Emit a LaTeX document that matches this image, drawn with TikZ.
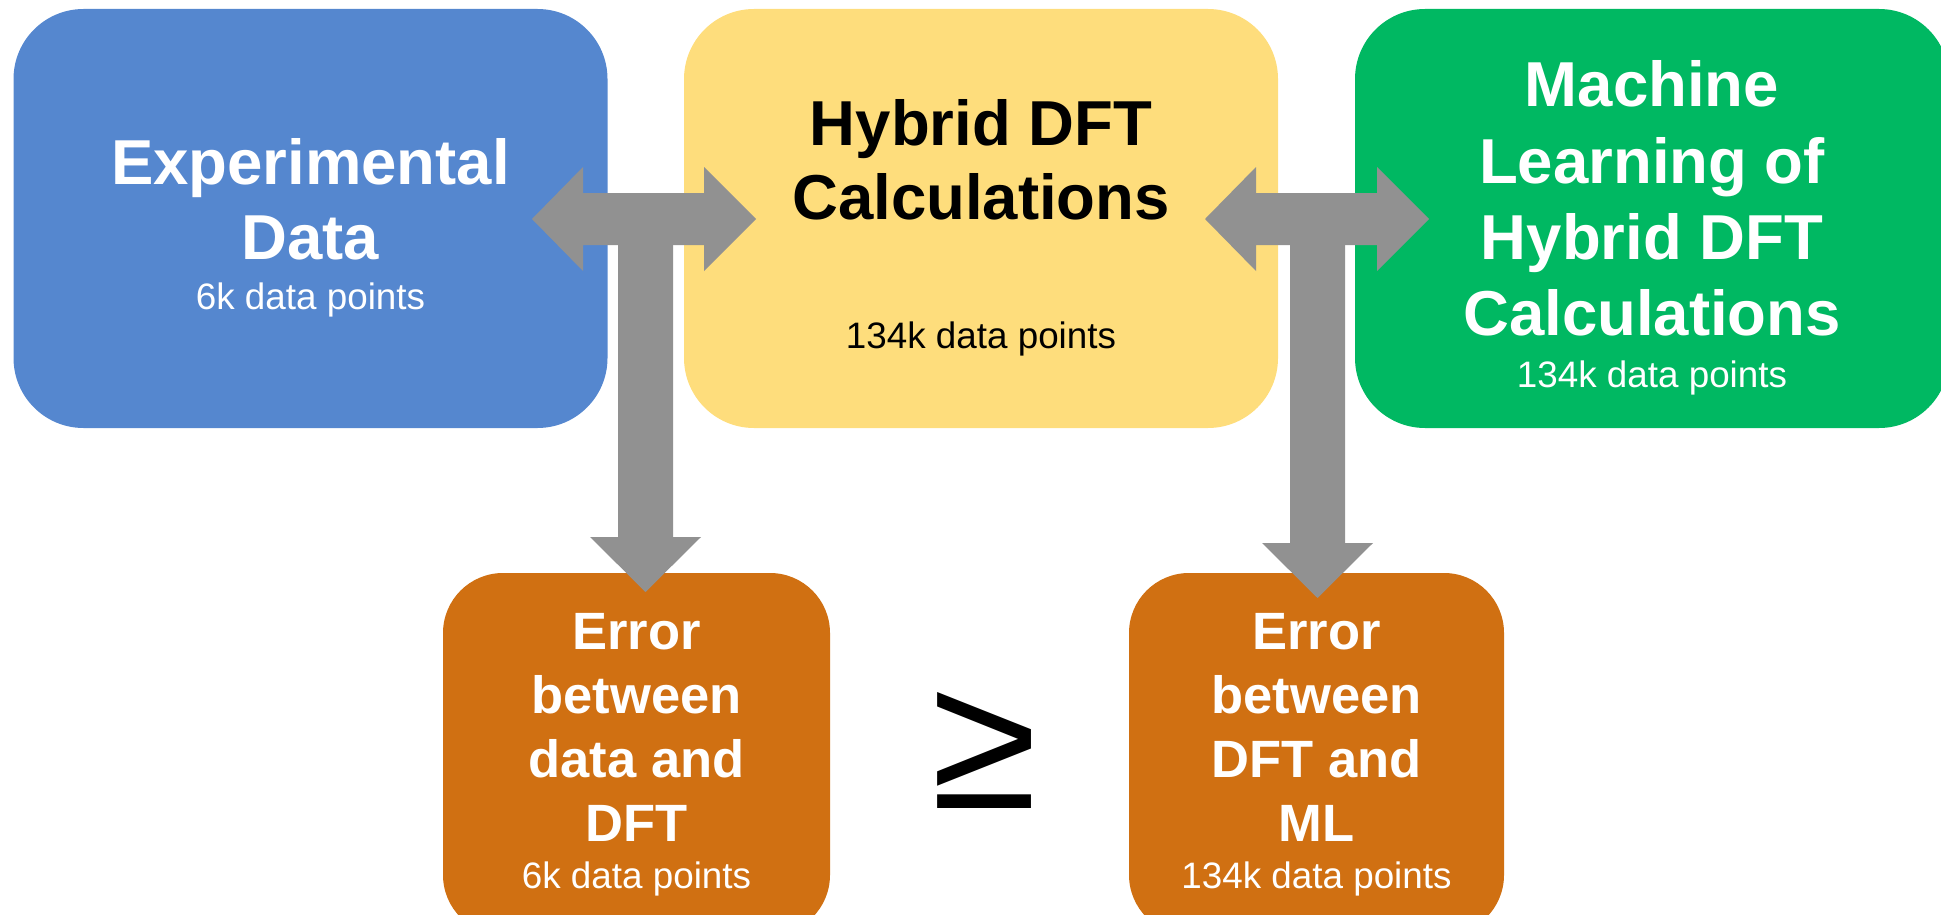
\documentclass[tikz,border=0pt]{standalone}
\usepackage{fontspec}
\setmainfont{Liberation Sans}
\definecolor{expC}{RGB}{85,135,207}
\definecolor{dftC}{RGB}{254,221,124}
\definecolor{mlC}{RGB}{0,184,98}
\definecolor{errC}{RGB}{208,112,18}
\definecolor{arrowC}{RGB}{145,145,145}
% centred block of lines whose baseline is that of the first line
\newcommand\stacklines[1]{\begin{tabular}[t]{@{}c@{}}#1\end{tabular}}
% T-shaped block arrow: left tip x, right tip x, stem centre x, stem tip y
\newcommand\teearrow[4]{%
  \fill[arrowC] (#1,219) -- ({#1+51},167) -- ({#1+51},193) -- ({#2-52},193)
    -- ({#2-52},167) -- (#2,219) -- ({#2-52},271) -- ({#2-52},245)
    -- ({#1+51},245) -- ({#1+51},271) -- cycle;
  \fill[arrowC] ({#3-27.5},230) -- ({#3+27.5},230) -- ({#3+27.5},{#4-55})
    -- ({#3+55.5},{#4-55}) -- (#3,#4) -- ({#3-55.5},{#4-55})
    -- ({#3-27.5},{#4-55}) -- cycle;}
\begin{document}
\begin{tikzpicture}[x=1pt,y=-1pt,
  card/.style={rectangle, inner sep=0pt, rounded corners=70pt,
    minimum width=594pt, minimum height=419pt},
  tile/.style={rectangle, inner sep=0pt, rounded corners=60pt, fill=errC,
    minimum height=362pt},
  head/.style={anchor=base, inner sep=0pt, align=center,
    font=\bfseries\fontsize{63.5}{#1}\selectfont},
  minor/.style={anchor=base, inner sep=0pt,
    font=\fontsize{36.8}{44}\selectfont},
]
\useasboundingbox (0,0) rectangle (1941,915);
\clip (0,0) rectangle (1941,915);

% main boxes
\node[card, fill=expC] (exp) at (310.5,218.5) {};
\node[card, fill=dftC] (dft) at (981,218.5) {};
\node[card, fill=mlC]  (ml)  at (1652,218.5) {};
\node[tile, minimum width=387pt] (errA) at (636.5,754) {};
\node[tile, minimum width=375pt] (errB) at (1316.5,754) {};

% block arrows
\teearrow{532}{756}{645.5}{592}
\teearrow{1205}{1429}{1317.5}{598}

% labels
\node[head=75, text=white] (expT) at (310.5,184)
  {\stacklines{Experimental\\Data}};
\node[minor, text=white] (expN) at (310.5,309) {6k data points};

\node[head=74, text=black] (dftT) at (981,146)
  {\stacklines{Hybrid DFT\\Calculations}};
\node[minor, text=black] (dftN) at (981,348) {134k data points};

\node[head=76.3, text=white] (mlT) at (1652,107)
  {\stacklines{Machine\\Learning of\\Hybrid DFT\\Calculations}};
\node[minor, text=white] (mlN) at (1652,387) {134k data points};

\node[head=64, text=white, font=\bfseries\fontsize{52.5}{64}\selectfont]
  (errAT) at (636.5,649) {\stacklines{Error\\between\\data and\\DFT}};
\node[minor, text=white] (errAN) at (636.5,888) {6k data points};

\node[head=64, text=white, font=\bfseries\fontsize{52.5}{64}\selectfont]
  (errBT) at (1316.5,649) {\stacklines{Error\\between\\DFT and\\ML}};
\node[minor, text=white] (errBN) at (1316.5,888) {134k data points};

% comparison sign
\node[inner sep=0pt] (geq) at (984.5,750) {\resizebox{!}{116pt}{≥}};
\end{tikzpicture}
\end{document}
